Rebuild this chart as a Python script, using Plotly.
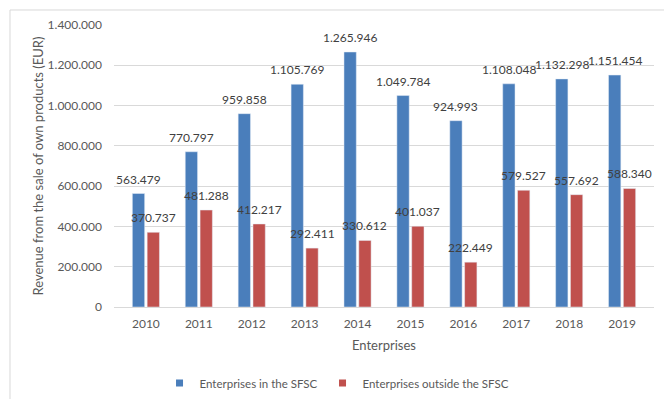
import plotly.graph_objects as go

years = ["2010", "2011", "2012", "2013", "2014", "2015", "2016", "2017", "2018", "2019"]
in_sfsc = [563479, 770797, 959858, 1105769, 1265946, 1049784, 924993, 1108048, 1132298, 1151454]
outside_sfsc = [370737, 481288, 412217, 292411, 330612, 401037, 222449, 579527, 557692, 588340]

series_names = ["Enterprises in the SFSC", "Enterprises outside the SFSC"]
BLUE = "#4A7EBB"
RED = "#C0504D"
TEXT = "#595959"
FONT = "Lato"

fig = go.Figure()
fig.add_bar(x=years, y=in_sfsc, name=series_names[0], marker_color=BLUE, showlegend=False)
fig.add_bar(x=years, y=outside_sfsc, name=series_names[1], marker_color=RED, showlegend=False)

# small square legend keys
for name, color in zip(series_names, [BLUE, RED]):
    fig.add_scatter(x=[None], y=[None], mode="markers", name=name,
                    marker=dict(symbol="square", size=7, color=color))

# value labels above each bar
half = 0.14
annotations = []
for i, (a, b) in enumerate(zip(in_sfsc, outside_sfsc)):
    for val, dx in ((a, -half), (b, half)):
        annotations.append(dict(
            x=i + dx, y=val, xref="x", yref="y",
            text=f"{val:,}".replace(",", "."),
            showarrow=False, yanchor="bottom", yshift=5,
            font=dict(family=FONT, size=12, color="#404040"),
        ))

fig.update_layout(
    width=664, height=399,
    margin=dict(l=114, r=10, t=25, b=92, autoexpand=False),
    paper_bgcolor="white", plot_bgcolor="white",
    separators=",.",
    barmode="group", bargap=0.44, bargroupgap=0.17,
    font=dict(family=FONT, size=12, color=TEXT),
    annotations=annotations,
    legend=dict(orientation="h", x=0.413, xanchor="center",
                yref="container", y=0.04, yanchor="middle",
                font=dict(family=FONT, size=11.5, color=TEXT), itemwidth=30),
    shapes=[dict(type="rect", xref="paper", yref="paper",
                 x0=-0.1926, x1=1.05, y0=-0.4, y1=1.0532,
                 line=dict(color="#D9D9D9", width=1), fillcolor="rgba(0,0,0,0)")],
)
fig.update_xaxes(
    type="category", showgrid=False, showline=True, linecolor="#D9D9D9", linewidth=1,
    ticks="", ticklabelstandoff=6, automargin=False,
    title=dict(text="Enterprises", font=dict(family=FONT, size=13, color=TEXT), standoff=10),
)
fig.update_yaxes(
    range=[0, 1400000], dtick=200000, tickformat=",d",
    showgrid=True, gridcolor="#D9D9D9", gridwidth=1, zeroline=False,
    ticklabelstandoff=11, automargin=False,
    title=dict(text="Revenue from the sale of own products (EUR)",
               font=dict(family=FONT, size=13, color=TEXT), standoff=1),
)

fig.write_html("out.html")
